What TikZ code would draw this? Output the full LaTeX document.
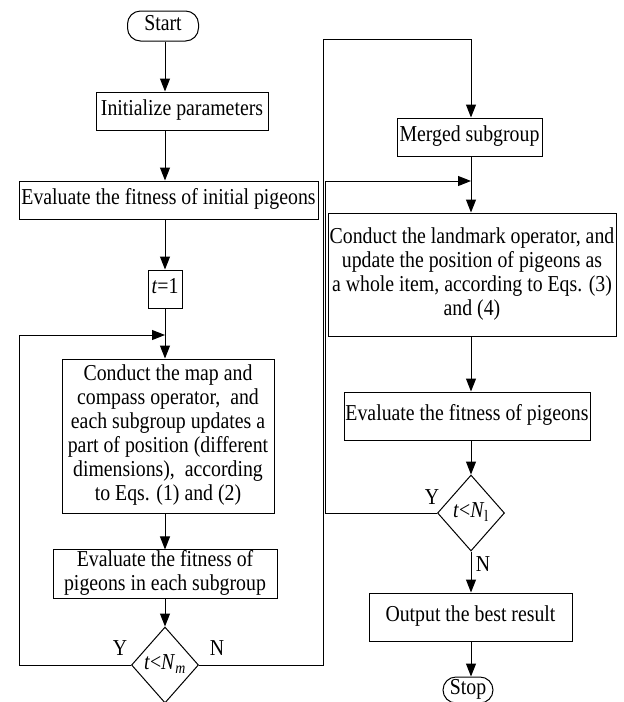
\documentclass[tikz,border=0pt]{standalone}
\usepackage{fontspec}
\usepackage{graphicx}
\setmainfont{Liberation Serif}
\usetikzlibrary{shapes.geometric,arrows.meta}
\newcommand{\vstr}[1]{\scalebox{1}[1.15]{\begin{tabular}{@{}c@{}}#1\end{tabular}}}
\begin{document}
\begin{tikzpicture}[x=1pt,y=-1pt,
  every node/.style={font=\fontsize{19.8}{20.9}\selectfont},
  box/.style={draw,line width=1pt,inner sep=0pt},
  term/.style={draw,line width=1pt,inner sep=0pt,rounded corners=13pt},
  dia/.style={draw,line width=1pt,diamond,inner sep=0pt,minimum width=67pt,minimum height=76pt},
  line/.style={line width=1pt},
  arr/.style={line width=1pt,-{Triangle[length=13pt,width=10pt]}},
  lab/.style={inner sep=0pt}]
\useasboundingbox (0,0) rectangle (624,702);
% left column
\node[term,minimum width=71pt,minimum height=30pt] (start) at (163,26) {\vstr{Start}};
\node[box,minimum width=172pt,minimum height=38pt] (init) at (182,111) {\vstr{Initialize parameters}};
\node[box,minimum width=299pt,minimum height=38pt] (evi) at (168.5,200) {\vstr{Evaluate the fitness of initial pigeons}};
\node[box,minimum width=34pt,minimum height=38pt] (t1) at (165,289) {\vstr{\textit{t}=1}};
\coordinate (j1) at (165,335);
\node[box,minimum width=212pt,minimum height=154pt] (cond) at (168,436)
  {\vstr{Conduct the map and\\compass operator,\ \ and\\each subgroup updates a\\part of position (different\\dimensions),\ \ according\\to Eqs. (1) and (2)}};
\node[box,minimum width=224pt,minimum height=46pt] (evs) at (165,574) {\vstr{Evaluate the fitness of\\pigeons in each subgroup}};
\node[dia] (d1) at (165,665) {};
\node[lab] (d1t) at (d1) {\vstr{\textit{t}<\textit{N}\textsubscript{\textit{m}}}};
% right column
\node[box,minimum width=145pt,minimum height=38pt] (mer) at (469.5,137) {\vstr{Merged subgroup}};
\coordinate (j2) at (471,181);
\node[box,minimum width=288pt,minimum height=123pt] (land) at (472,274.5)
  {\vstr{Conduct the landmark operator, and\\update the position of pigeons as\\a whole item, according to Eqs. (3)\\and (4)}};
\node[box,minimum width=246pt,minimum height=48pt] (evp) at (467,416) {\vstr{Evaluate the fitness of pigeons}};
\node[dia] (d2) at (471,513) {};
\node[lab] (d2t) at (d2) {\vstr{\textit{t}<\textit{N}\textsubscript{l}}};
\node[box,minimum width=203pt,minimum height=48pt] (out) at (470.5,617) {\vstr{Output the best result}};
\node[term,minimum width=50pt,minimum height=26pt] (stop) at (468,690) {\vstr{Stop}};
% corner coordinates
\coordinate (c1) at (19,665);
\coordinate (c2) at (19,335);
\coordinate (c3) at (323,665);
\coordinate (c4) at (323,39);
\coordinate (c5) at (471,39);
\coordinate (c6) at (325,513);
\coordinate (c7) at (325,181);
% left arrows
\draw[arr] (start.south -| j1) -- (init.north -| j1);
\draw[arr] (init.south -| j1) -- (evi.north -| j1);
\draw[arr] (evi.south -| j1) -- (t1.north);
\draw[line] (t1.south) -- (j1);
\draw[arr] (j1) -- (cond.north -| j1);
\draw[arr] (cond.south -| j1) -- (evs.north -| j1);
\draw[arr] (evs.south -| j1) -- (d1.north);
\draw[line] (d1.west) -- (c1) -- (c2);
\draw[arr] (c2) -- (j1);
\draw[line] (d1.east) -- (c3) -- (c4) -- (c5);
\draw[arr] (c5) -- (mer.north -| c5);
% right arrows
\draw[line] (mer.south -| j2) -- (j2);
\draw[arr] (j2) -- (land.north -| j2);
\draw[arr] (land.south -| j2) -- (evp.north -| j2);
\draw[arr] (evp.south -| j2) -- (d2.north);
\draw[line] (d2.west) -- (c6) -- (c7);
\draw[arr] (c7) -- (j2);
\draw[arr] (d2.south) -- (out.north -| d2);
\draw[arr] (out.south -| d2) -- (stop.north -| d2);
% labels
\node[lab] (y1) at (120,651) {\vstr{Y}};
\node[lab] (n1) at (217,651) {\vstr{N}};
\node[lab] (y2) at (432,500) {\vstr{Y}};
\node[lab] (n2) at (483,567) {\vstr{N}};
\end{tikzpicture}
\end{document}
